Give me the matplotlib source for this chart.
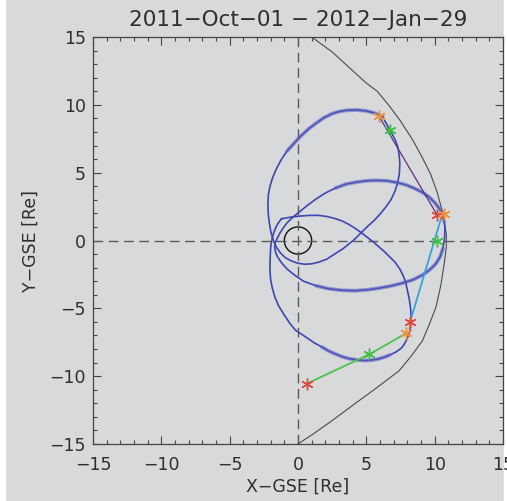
import matplotlib
matplotlib.use("Agg")
import matplotlib.pyplot as plt
from matplotlib.patches import Circle, Rectangle
import numpy as np

# orbit loops (X, Y in Re)
loopA_x = [6.2, 5.6, 5.0, 4.3, 3.6, 3.0, 2.5, 1.9, 1.4, 0.8, 0.2, -0.3, -0.8, -1.2, -1.55, -1.85, -2.05, -2.17, -2.2, -2.18,
           -2.1, -1.98, -1.8, -1.58, -1.3, -0.95, -0.5, 0.0, 0.5, 1.0, 1.5, 2.1, 2.6, 3.3, 4.1, 4.6, 5.1, 5.6, 6.05, 6.45,
           6.8, 7.08, 7.28, 7.42, 7.45, 7.4, 7.3, 7.1, 6.8, 6.5, 6.2]
loopA_y = [9.1, 9.4, 9.55, 9.62, 9.6, 9.5, 9.35, 9.05, 8.7, 8.25, 7.7, 7.15, 6.6, 6.0, 5.35, 4.65, 4.0, 3.35, 2.7, 2.0,
           1.3, 0.6, 0.0, -0.5, -0.9, -1.25, -1.5, -1.68, -1.75, -1.72, -1.6, -1.38, -1.05, -0.6, 0.05, 0.55, 1.05, 1.5, 2.0, 2.5,
           3.0, 3.6, 4.2, 4.95, 5.7, 6.3, 6.9, 7.45, 8.0, 8.55, 9.1]

loopB_x = [10.75, 10.7, 10.6, 10.35, 10.0, 9.6, 9.1, 8.5, 7.9, 7.2, 6.5, 5.75, 5.0, 4.25, 3.5, 2.75, 2.0, 1.35, 0.7, 0.15,
           -0.4, -0.8, -1.1, -1.35, -1.55, -1.68, -1.7, -1.65, -1.5, -1.2, -0.8, -0.25, 0.4, 1.3, 2.2, 3.2, 4.2, 5.1, 6.0, 6.8,
           7.6, 8.4, 9.1, 9.65, 10.1, 10.4, 10.6, 10.72, 10.75]
loopB_y = [0.9, 1.4, 1.85, 2.35, 2.8, 3.2, 3.55, 3.85, 4.1, 4.28, 4.4, 4.43, 4.4, 4.3, 4.15, 3.87, 3.5, 3.08, 2.6, 2.15,
           1.7, 1.3, 0.9, 0.5, 0.1, -0.2, -0.5, -0.85, -1.2, -1.65, -2.1, -2.55, -3.0, -3.33, -3.55, -3.67, -3.7, -3.63, -3.5, -3.35,
           -3.15, -2.9, -2.55, -2.15, -1.7, -1.2, -0.6, 0.1, 0.9]

loopC_x = [-1.2, -0.55, 0.15, 0.8, 1.5, 2.1, 2.6, 3.2, 3.7, 4.15, 4.6, 5.05, 5.5, 5.9, 6.3, 6.7, 7.1, 7.45, 7.7, 7.88,
           8.0, 8.12, 8.2, 8.25, 8.27, 8.25, 8.2, 8.1, 7.95, 7.8, 7.6, 7.2, 6.7, 6.25, 5.8, 5.35, 4.9, 4.3, 3.7, 3.2,
           2.7, 2.2, 1.75, 1.2, 0.7, 0.25, -0.2, -0.6, -1.0, -1.4, -1.7, -1.88, -2.0, -2.05, -2.05, -2.03, -2.0, -1.92, -1.8, -1.65,
           -1.5, -1.35, -1.2]
loopC_y = [1.6, 1.72, 1.8, 1.85, 1.85, 1.77, 1.65, 1.45, 1.2, 0.92, 0.6, 0.25, -0.1, -0.45, -0.8, -1.2, -1.6, -2.1, -2.6, -3.1,
           -3.65, -4.2, -4.7, -5.15, -5.6, -6.1, -6.6, -6.95, -7.3, -7.6, -7.9, -8.2, -8.45, -8.62, -8.75, -8.82, -8.85, -8.8, -8.7, -8.55,
           -8.35, -8.12, -7.85, -7.55, -7.2, -6.9, -6.6, -6.1, -5.5, -4.85, -4.15, -3.5, -2.9, -2.3, -1.7, -1.1, -0.5, 0.0, 0.5, 0.9,
           1.2, 1.42, 1.6]

# stretches where several passes overlap (index ranges in the loops above)
bandA = (0, 13)
bandB_top = (1, 16)
bandB_bot = (33, 47)
bandC_bot = (32, 43)

# boundary curve
bound_x = [1.0, 2.5, 3.8, 5.0, 5.8, 6.7, 7.5, 8.4, 9.1, 9.7, 10.2, 10.6, 10.85, 10.85, 10.7, 10.45, 10.1, 9.6, 9.1, 8.3,
           7.4, 5.7, 4.2, 2.6, 1.2, 0.0]
bound_y = [15.0, 13.9, 12.7, 11.6, 11.0, 9.9, 8.8, 7.4, 6.1, 4.9, 3.5, 2.0, 0.5, -0.5, -1.7, -3.3, -4.9, -6.2, -7.4, -8.5,
           -9.6, -10.9, -12.0, -13.2, -14.2, -15.0]

# spacecraft positions
red_x = [10.2, 8.2, 0.65]
red_y = [1.85, -6.0, -10.55]
orange_x = [5.9, 10.7, 7.9]
orange_y = [9.2, 1.95, -6.85]
green_x = [6.7, 10.2, 5.2]
green_y = [8.15, 0.0, -8.4]

# connecting lines
purple_x = [5.9, 10.2]
purple_y = [9.2, 1.85]
cyan_x = [10.55, 8.2]
cyan_y = [1.9, -6.0]
gline_x = [7.9, 5.2, 0.65]
gline_y = [-6.85, -8.4, -10.55]

earth_r = 1.0
ticks = [-15, -10, -5, 0, 5, 10, 15]
title = "2011\u2212Oct\u221201 \u2212 2012\u2212Jan\u221229"

bg = "#d8d9db"
txt = "#2e2e2e"
fig = plt.figure(figsize=(5.07, 5.01), dpi=100, facecolor=bg)
fig.patches.append(Rectangle((0, 0), 5 / 507, 1, transform=fig.transFigure, color="white", zorder=-1))
fig.patches.append(Rectangle((504 / 507, 0), 3 / 507, 1, transform=fig.transFigure, color="white", zorder=-1))

ax = fig.add_axes([93 / 507, 57 / 501, 410 / 507, 407 / 501], facecolor=bg)

ax.plot([0, 0], [-15, 15], color="#5a5a5a", lw=1.0, dashes=(7, 4))
ax.plot([-15, 15], [0, 0], color="#5a5a5a", lw=1.0, dashes=(7, 4))

ax.plot(bound_x, bound_y, color="#4a4a4a", lw=0.8)
ax.add_patch(Circle((0, 0), earth_r, fill=False, ec="#111111", lw=1.0))

blue = "#3d47b2"
for lx, ly in [(loopA_x, loopA_y), (loopB_x, loopB_y), (loopC_x, loopC_y)]:
    ax.plot(lx, ly, color=blue, lw=1.2)

# thicker where passes overlap
for lx, ly, (i0, i1) in [(loopA_x, loopA_y, bandA), (loopB_x, loopB_y, bandB_top),
                         (loopB_x, loopB_y, bandB_bot), (loopC_x, loopC_y, bandC_bot)]:
    ax.plot(lx[i0:i1], ly[i0:i1], color="#5a62c0", lw=2.8, alpha=0.55, solid_capstyle="round")

ax.plot(purple_x, purple_y, color="#5e2f86", lw=0.9)
ax.plot(cyan_x, cyan_y, color="#34a4dc", lw=1.3)
ax.plot(gline_x, gline_y, color="#4cc24a", lw=1.3)

star = (6, 2, 0)
ax.plot(red_x, red_y, ls="none", marker=star, ms=8.5, mew=1.0, color="#e2463c")
ax.plot(orange_x, orange_y, ls="none", marker=star, ms=8.5, mew=1.0, color="#f0903c")
ax.plot(green_x, green_y, ls="none", marker=star, ms=8.5, mew=1.0, color="#3cbf3c")

ax.set_xlim(-15, 15)
ax.set_ylim(-15, 15)
ax.set_xticks(ticks)
ax.set_yticks(ticks)
ax.set_xticks(np.arange(-15, 16, 1), minor=True)
ax.set_yticks(np.arange(-15, 16, 1), minor=True)
ax.tick_params(which="both", direction="in", top=True, right=True, color="#444444", width=0.8)
ax.tick_params(which="major", length=6)
ax.tick_params(which="minor", length=3)
ax.tick_params(axis="x", labelsize=12.5, pad=9, labelcolor=txt)
ax.tick_params(axis="y", labelsize=12.5, pad=5, labelcolor=txt)
for s in ax.spines.values():
    s.set_color("#444444")
    s.set_linewidth(0.9)

ax.set_xlabel("X\u2212GSE [Re]", fontsize=12.5, color=txt, labelpad=2)
ax.set_ylabel("Y\u2212GSE [Re]", fontsize=12.5, color=txt, labelpad=7)
fig.text(298 / 507, 1 - 20 / 501, title, ha="center", va="center", fontsize=15.5, color=txt)

fig.savefig("out.png", dpi=100, facecolor=bg)
